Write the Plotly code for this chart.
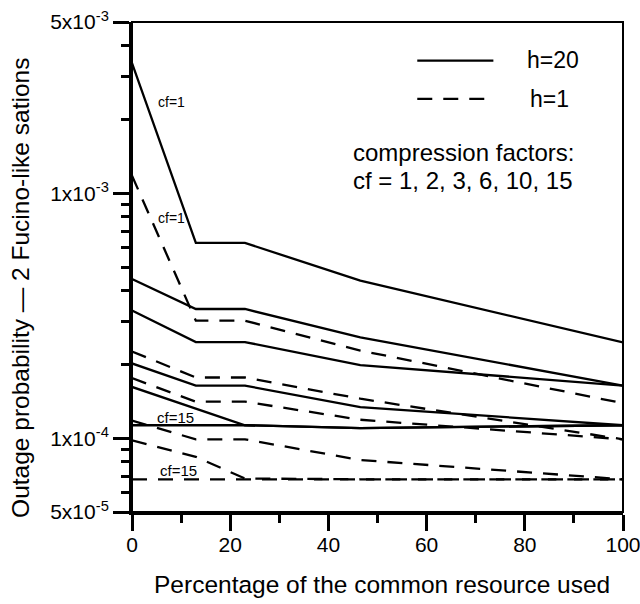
import math
import plotly.graph_objects as go

# ---------------- data ----------------
x_pct = [0, 13, 23, 46.5, 100]

cf_list = [1, 2, 3, 6, 10, 15]

# h = 20 (solid lines)
h20_cf1 = [3.40e-3, 6.27e-4, 6.27e-4, 4.40e-4, 2.46e-4]
h20_cf2 = [4.47e-4, 3.37e-4, 3.37e-4, 2.58e-4, 1.64e-4]
h20_cf3 = [3.32e-4, 2.47e-4, 2.47e-4, 1.99e-4, 1.64e-4]
h20_cf6 = [2.02e-4, 1.64e-4, 1.64e-4, 1.34e-4, 1.13e-4]
h20_cf10 = [1.62e-4, 1.32e-4, 1.13e-4, 1.10e-4, 1.13e-4]
h20_cf15 = [1.13e-4, 1.13e-4, 1.13e-4, 1.10e-4, 1.13e-4]

# h = 1 (dashed lines)
h1_cf1 = [1.18e-3, 3.02e-4, 3.02e-4, 2.28e-4, 1.39e-4]
h1_cf2 = [2.26e-4, 1.77e-4, 1.77e-4, 1.45e-4, 9.9e-5]
h1_cf3 = [1.76e-4, 1.41e-4, 1.41e-4, 1.19e-4, 9.9e-5]
h1_cf6 = [1.18e-4, 9.9e-5, 9.9e-5, 8.15e-5, 6.8e-5]
h1_cf10 = [9.8e-5, 8.4e-5, 6.85e-5, 6.8e-5, 6.8e-5]
h1_cf15 = [6.8e-5, 6.8e-5, 6.8e-5, 6.8e-5, 6.8e-5]

h20_series = [h20_cf1, h20_cf2, h20_cf3, h20_cf6, h20_cf10, h20_cf15]
h1_series = [h1_cf1, h1_cf2, h1_cf3, h1_cf6, h1_cf10, h1_cf15]

x_tick_vals = [0, 20, 40, 60, 80, 100]
x_minor_vals = [10, 30, 50, 70, 90]
y_tick_vals = [5e-5, 1e-4, 1e-3, 5e-3]
y_tick_text = ["5x10<sup>-5</sup>", "1x10<sup>-4</sup>", "1x10<sup>-3</sup>", "5x10<sup>-3</sup>"]
y_minor_vals = [6e-5, 7e-5, 8e-5, 9e-5,
                2e-4, 3e-4, 4e-4, 5e-4, 6e-4, 7e-4, 8e-4, 9e-4,
                2e-3, 3e-3, 4e-3]
y_range = [5e-5, 5e-3]

# in-plot labels: (text, x, y, font size)
cf_labels = [("cf=1", 8.0, 2.36e-3, 14),
             ("cf=1", 8.0, 7.96e-4, 14),
             ("cf=15", 8.9, 1.21e-4, 15),
             ("cf=15", 9.4, 7.38e-5, 15)]

FONT = "Liberation Sans, Arial, Helvetica, sans-serif"
DASH = "15px,11px"
LW = 2.3

fig = go.Figure()
for cf, ys in zip(cf_list, h20_series):
    fig.add_trace(go.Scatter(x=x_pct, y=ys, mode="lines", name=f"h=20 cf={cf}",
                             line=dict(color="black", width=LW), showlegend=False))
for cf, ys in zip(cf_list, h1_series):
    fig.add_trace(go.Scatter(x=x_pct, y=ys, mode="lines", name=f"h=1 cf={cf}",
                             line=dict(color="black", width=LW, dash=DASH), showlegend=False))

annotations = []
for txt, xv, yv, fs in cf_labels:
    annotations.append(dict(text=txt, x=xv, y=math.log10(yv), xref="x", yref="y",
                            showarrow=False, xanchor="center", yanchor="middle",
                            font=dict(size=fs, color="black", family=FONT)))

# legend-like texts
annotations += [
    dict(text="h=20", x=0.801, y=0.922, xref="paper", yref="paper", showarrow=False,
         xanchor="left", yanchor="middle", font=dict(size=23, family=FONT, color="black")),
    dict(text="h=1", x=0.807, y=0.843, xref="paper", yref="paper", showarrow=False,
         xanchor="left", yanchor="middle", font=dict(size=23, family=FONT, color="black")),
    dict(text="compression factors:", x=0.446, y=0.733, xref="paper", yref="paper",
         showarrow=False, xanchor="left", yanchor="middle",
         font=dict(size=24, family=FONT, color="black")),
    dict(text="cf = 1, 2, 3, 6, 10, 15", x=0.446, y=0.676, xref="paper", yref="paper",
         showarrow=False, xanchor="left", yanchor="middle",
         font=dict(size=24, family=FONT, color="black")),
    # axis titles
    dict(text="Percentage of the common resource used", x=0.5088, y=-0.147,
         xref="paper", yref="paper", showarrow=False, xanchor="center", yanchor="middle",
         font=dict(size=24.5, family=FONT, color="black")),
    dict(text="Outage probability \u2014 2 Fucino-like sations", x=-0.2275, y=0.458,
         xref="paper", yref="paper", showarrow=False, xanchor="center", yanchor="middle",
         textangle=-90, font=dict(size=24.5, family=FONT, color="black")),
]

shapes = [
    dict(type="rect", xref="paper", yref="paper", x0=0, x1=1, y0=0, y1=1,
         line=dict(color="black", width=2)),
    dict(type="line", xref="paper", yref="paper", x0=0.581, x1=0.736, y0=0.921, y1=0.921,
         line=dict(color="black", width=LW)),
    dict(type="line", xref="paper", yref="paper", x0=0.581, x1=0.724, y0=0.843, y1=0.843,
         line=dict(color="black", width=LW, dash=DASH)),
]

fig.update_layout(
    width=640, height=604,
    margin=dict(l=132, r=17, t=22, b=92, pad=0, autoexpand=False),
    paper_bgcolor="white", plot_bgcolor="white",
    font=dict(family=FONT, color="black"),
    annotations=annotations, shapes=shapes,
    showlegend=False,
    xaxis=dict(range=[0, 100], showgrid=False, zeroline=False, automargin=False,
               showline=True, linecolor="black", linewidth=3,
               ticks="outside", tickvals=x_tick_vals, ticklen=16, tickwidth=2.5,
               ticklabelstandoff=-4, ticklabeloverflow="allow",
               tickcolor="black", tickfont=dict(size=21, family=FONT, color="black"),
               minor=dict(tickvals=x_minor_vals, ticks="outside", ticklen=8,
                          tickwidth=2.5, tickcolor="black", showgrid=False)),
    yaxis=dict(type="log", range=[math.log10(y_range[0]), math.log10(y_range[1])],
               showgrid=False, zeroline=False, automargin=False,
               showline=True, linecolor="black", linewidth=3,
               ticks="outside", tickvals=y_tick_vals, ticktext=y_tick_text,
               ticklen=16, tickwidth=2.5, tickcolor="black", ticklabeloverflow="allow",
               tickfont=dict(size=21, family=FONT, color="black"),
               minor=dict(tickvals=y_minor_vals, ticks="outside", ticklen=8,
                          tickwidth=2.5, tickcolor="black", showgrid=False)),
)

fig.write_html("out.html")
